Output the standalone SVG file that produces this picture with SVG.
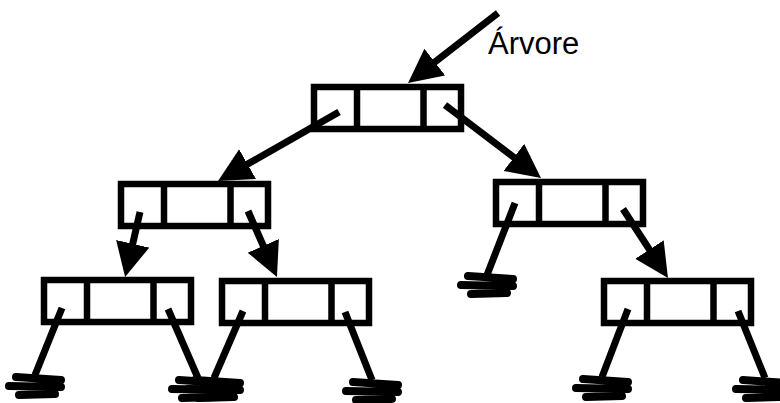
<svg xmlns="http://www.w3.org/2000/svg" xmlns:xlink="http://www.w3.org/1999/xlink" width="780" height="403" viewBox="0 0 780 403">
<style>
.box{fill:#fff;stroke:#000;stroke-width:6.5}
.div{stroke:#000;stroke-width:6.5}
.ptr{stroke:#000;stroke-width:7;fill:none}
.gnd{stroke:#000;stroke-width:8;stroke-linecap:round;fill:none}
.lbl{font-family:"Liberation Sans",Arial,sans-serif;font-size:31px;fill:#000}
</style>
<defs>
<marker id="ah" markerUnits="userSpaceOnUse" markerWidth="36" markerHeight="36" refX="4" refY="17" orient="auto">
<path d="M0,0 L34,17 L0,34 Z" fill="#000"/>
</marker>
<g id="node">
<rect class="box" x="0" y="0" width="147" height="42"/>
<line class="div" x1="43" y1="0" x2="43" y2="42"/>
<line class="div" x1="109.5" y1="0" x2="109.5" y2="42"/>
</g>
<path id="ground" class="gnd" d="M-19,3 L26,6 M-26,12 L26,13 M-16,21 L20,20"/>
</defs>
<rect width="780" height="403" fill="#fff"/>
<g id="node-root"><use xlink:href="#node" x="314" y="87"/></g>
<g id="node-l"><use xlink:href="#node" x="121" y="184"/></g>
<g id="node-r"><use xlink:href="#node" x="496" y="182"/></g>
<g id="node-ll"><use xlink:href="#node" x="44" y="280"/></g>
<g id="node-lr"><use xlink:href="#node" x="222" y="281"/></g>
<g id="node-rr"><use xlink:href="#node" x="604" y="281"/></g>
<g id="label"><text class="lbl" x="488" y="54">Árvore</text></g>
<g id="connectors">
<line class="ptr" x1="498" y1="13" x2="431.7" y2="64.6" marker-end="url(#ah)"/>
<line class="ptr" x1="339" y1="112" x2="244.1" y2="166.1" marker-end="url(#ah)"/>
<line class="ptr" x1="445" y1="105" x2="517.1" y2="159.8" marker-end="url(#ah)"/>
<line class="ptr" x1="140" y1="212" x2="131.8" y2="247.7" marker-end="url(#ah)"/>
<line class="ptr" x1="248" y1="211" x2="264.9" y2="249.5" marker-end="url(#ah)"/>
<line class="ptr" x1="623" y1="209" x2="651.6" y2="252.9" marker-end="url(#ah)"/>
<line class="ptr" x1="515" y1="203" x2="487" y2="275"/>
<line class="ptr" x1="62" y1="308" x2="35" y2="375"/>
<line class="ptr" x1="168" y1="309" x2="198" y2="378"/>
<line class="ptr" x1="243" y1="311" x2="214" y2="378"/>
<line class="ptr" x1="345" y1="312" x2="372" y2="380"/>
<line class="ptr" x1="628" y1="309" x2="602" y2="377"/>
<line class="ptr" x1="738" y1="311" x2="765" y2="378"/>
<use xlink:href="#ground" x="487" y="273"/>
<use xlink:href="#ground" x="35" y="374"/>
<use xlink:href="#ground" x="198" y="377"/>
<use xlink:href="#ground" x="214" y="377"/>
<use xlink:href="#ground" x="372" y="379"/>
<use xlink:href="#ground" x="602" y="376"/>
<use xlink:href="#ground" x="762" y="377"/>
</g>
</svg>
